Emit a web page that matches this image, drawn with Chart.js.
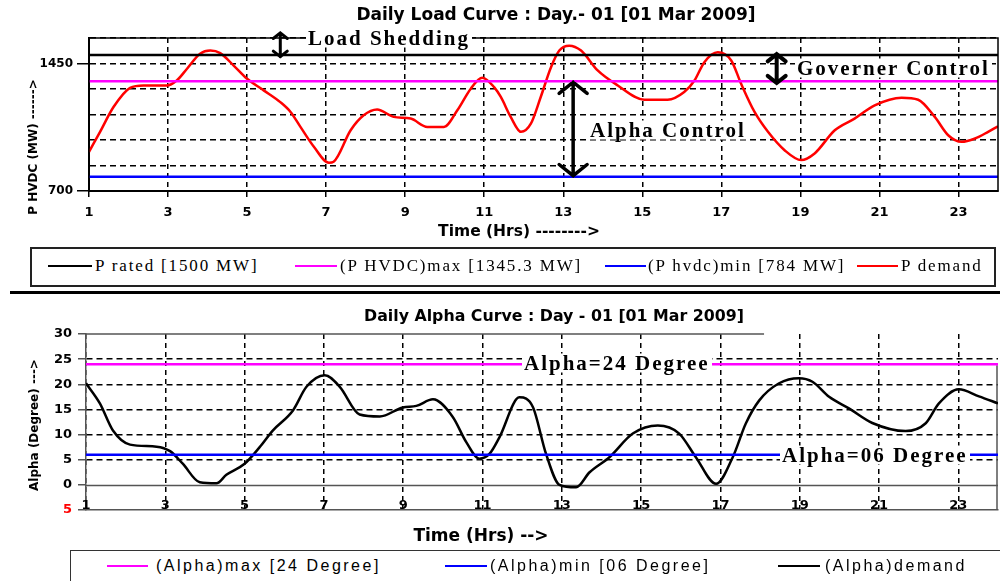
<!DOCTYPE html>
<html>
<head>
<meta charset="utf-8">
<script src="https://cdn.jsdelivr.net/npm/chart.js@4.4.1/dist/chart.umd.min.js"></script>
<style>
body{margin:0;width:1000px;height:581px;overflow:hidden;background:#fff;position:relative;font-family:"Liberation Sans",Arial,sans-serif;}
canvas{position:absolute;left:0;}
#c1{top:0;}
#c2{top:290px;}
.txt{position:absolute;white-space:nowrap;transform:translate(-50%,-50%);font-family:"DejaVu Sans",Verdana,sans-serif;}
.title{font-weight:bold;font-size:17px;}
.ax{font-weight:bold;font-size:15.5px;}
.yt{font-weight:bold;font-size:12px;transform:translate(-50%,-50%) rotate(-90deg);}
.note{position:absolute;white-space:nowrap;transform:translateY(-50%);font-family:"Liberation Serif","Times New Roman",serif;font-weight:bold;font-size:21px;letter-spacing:2px;background:#fff;line-height:19px;padding:0 2px;}
.box{position:absolute;box-sizing:border-box;}
.lg{position:absolute;height:2px;}
.lt{position:absolute;white-space:nowrap;transform:translateY(-50%);}
.serif{font-family:"Liberation Serif","Times New Roman",serif;font-size:17px;letter-spacing:1.85px;}
.sans{font-family:"Liberation Sans",Arial,sans-serif;font-size:16px;letter-spacing:2.5px;}
#sep{position:absolute;left:10px;top:291px;width:990px;height:3px;background:#000;}
</style>
</head>
<body>
<canvas id="c1" width="1000" height="245"></canvas>
<canvas id="c2" width="1000" height="260"></canvas>

<div class="txt title" style="left:556px;top:14px;">Daily Load Curve : Day.- 01 [01 Mar 2009]</div>
<div class="txt yt" style="left:33px;top:147px;">P HVDC (MW) ------&gt;</div>
<div class="txt ax" style="left:519px;top:231px;">Time (Hrs) --------&gt;</div>

<div class="note" style="left:306px;top:38px;">Load Shedding</div>
<div class="note" style="left:795px;top:68px;">Governer Control</div>
<div class="note" style="left:588px;top:130px;">Alpha Control</div>

<div class="box" style="left:30px;top:247px;width:966px;height:40px;border:2px solid #222;"></div>
<div class="lg" style="left:48px;top:265px;width:44px;background:#000;"></div>
<div class="lt serif" style="left:95px;top:266px;">P rated [1500 MW]</div>
<div class="lg" style="left:295px;top:265px;width:42px;background:#ff00ff;"></div>
<div class="lt serif" style="left:340px;top:266px;">(P HVDC)max [1345.3 MW]</div>
<div class="lg" style="left:605px;top:265px;width:41px;background:#0000ff;"></div>
<div class="lt serif" style="left:648px;top:266px;">(P hvdc)min [784 MW]</div>
<div class="lg" style="left:857px;top:265px;width:41px;background:#ff0000;"></div>
<div class="lt serif" style="left:901px;top:266px;">P demand</div>

<div id="sep"></div>

<div class="txt title" style="left:554px;top:315px;font-size:15.8px;">Daily Alpha Curve : Day - 01 [01 Mar 2009]</div>
<div class="txt yt" style="left:34px;top:425px;">Alpha (Degree) ---&gt;</div>
<div class="txt ax" style="left:481px;top:535px;font-size:17px;">Time (Hrs) --&gt;</div>

<div class="note" style="left:522px;top:363px;">Alpha=24 Degree</div>
<div class="note" style="left:780px;top:455px;">Alpha=06 Degree</div>

<div class="box" style="left:70px;top:550px;width:940px;height:40px;border:1.5px solid #333;"></div>
<div class="lg" style="left:107px;top:565px;width:41px;background:#ff00ff;"></div>
<div class="lt sans" style="left:156px;top:566px;">(Alpha)max [24 Degree]</div>
<div class="lg" style="left:445px;top:565px;width:42px;background:#0000ff;"></div>
<div class="lt sans" style="left:490px;top:566px;">(Alpha)min [06 Degree]</div>
<div class="lg" style="left:778px;top:565px;width:42px;background:#000;"></div>
<div class="lt sans" style="left:825px;top:566px;">(Alpha)demand</div>

<script>
// Load curve data
const hourRange = [1, 24];
const xTicks = [1, 3, 5, 7, 9, 11, 13, 15, 17, 19, 21, 23];
const loadTicks = [700, 850, 1000, 1150, 1300, 1450, 1600];
const loadLabels = [700, 1450];
const pRated = 1500;
const pMax = 1345.3;
const pMin = 784;
const demandHours = [1, 1.28, 1.62, 2.04, 2.38, 2.97, 3.22, 3.48, 3.81, 4.07, 4.32, 4.66, 5.0, 5.42, 5.84, 6.1, 6.35, 6.69, 7.07, 7.19, 7.62, 7.95, 8.29, 8.71, 9.14, 9.56, 9.98, 10.32, 10.66, 10.95, 11.25,
  11.42, 11.67, 11.93, 12.18, 12.43, 12.69, 12.9, 13.15, 13.45, 13.87, 14.38, 15.05, 15.64, 16.06, 16.32, 16.57, 16.91, 17.25, 17.5, 17.84, 18.18, 18.6, 19.02, 19.36, 19.87, 20.37, 20.88, 21.56, 21.98, 22.4, 22.74, 23.08, 23.42, 23.75, 24];
const pDemand = [930, 1048, 1194, 1307, 1321, 1321, 1350, 1419, 1507, 1526, 1511, 1438, 1360, 1292, 1223, 1165, 1077, 960, 866, 872, 1057, 1145, 1179, 1136, 1126, 1077, 1077, 1175, 1302, 1366, 1311,
  1253, 1136, 1048, 1096, 1253, 1428, 1526, 1555, 1526, 1409, 1321, 1237, 1237, 1282, 1350, 1458, 1516, 1468, 1331, 1165, 1048, 940, 882, 921, 1057, 1126, 1204, 1249, 1237, 1136, 1028, 989, 1009, 1048, 1081];

// Alpha curve data
const alphaTicks = [-5, 0, 5, 10, 15, 20, 25, 30];
const alphaMax = 24;
const alphaMin = 6;
const alphaHours = [1, 1.35, 1.68, 2.11, 2.78, 3.12, 3.44, 3.87, 4.29, 4.54, 5.0, 5.38, 5.71, 6.22, 6.56, 7.02, 7.4, 7.9, 8.41, 8.99, 9.33, 9.75, 10.25, 10.59, 10.92, 11.18, 11.43,
  11.93, 12.27, 12.6, 12.94, 13.36, 13.7, 14.2, 14.79, 15.42, 15.96, 16.38, 16.89, 17.31, 17.64, 17.98, 18.48, 18.98, 19.32, 19.74, 20.24, 20.83, 21.67, 22.17, 22.51, 23.01, 23.52, 24];
const alphaDemand = [20.2, 16.2, 10.8, 8.0, 7.6, 6.7, 4.2, 0.5, 0.3, 2.0, 4.2, 7.5, 10.8, 14.8, 19.5, 21.8, 19.5, 14.0, 13.6, 15.4, 15.7, 17.0, 13.5, 8.5, 5.2, 6.2, 9.5,
  17.4, 15.5, 6.2, 0, -0.5, 2.5, 5.5, 10.2, 11.8, 10.2, 5.5, 0.2, 5.5, 12.2, 16.8, 20.2, 21.2, 20.5, 17.5, 15.2, 12.3, 10.7, 12.2, 16.2, 19.0, 17.6, 16.2];

// annotation arrows: [hour, from, to, head half width, line width]
const loadArrows = [[5.84, 1630, 1490, 7, 3], [18.4, 1505, 1335, 9, 4], [13.25, 1340, 790, 14, 3.5]];

const pts = (xs, ys) => xs.map((x, i) => ({x: x, y: ys[i]}));
const flat = v => [{x: hourRange[0], y: v}, {x: hourRange[1], y: v}];
const tickFont = {family: 'DejaVu Sans', weight: 'bold', size: 12};

function arrow(ctx, x, y1, y2, hw, lw){
  ctx.save();
  ctx.strokeStyle = '#000';
  ctx.lineWidth = lw;
  ctx.lineCap = 'round';
  ctx.beginPath();
  ctx.moveTo(x, y1); ctx.lineTo(x, y2);
  ctx.moveTo(x - hw, y1 + hw * 0.8); ctx.lineTo(x, y1); ctx.lineTo(x + hw, y1 + hw * 0.8);
  ctx.moveTo(x - hw, y2 - hw * 0.8); ctx.lineTo(x, y2); ctx.lineTo(x + hw, y2 - hw * 0.8);
  ctx.stroke();
  ctx.restore();
}

const loadDecor = {
  id: 'loadDecor',
  afterDatasetsDraw(chart){
    const {ctx, chartArea: a, scales: {x, y}} = chart;
    ctx.save();
    ctx.strokeStyle = '#000';
    ctx.lineWidth = 1.5;
    ctx.strokeRect(a.left, a.top, a.right - a.left, a.bottom - a.top);
    ctx.restore();
    loadArrows.forEach(r => arrow(ctx, x.getPixelForValue(r[0]), y.getPixelForValue(r[1]), y.getPixelForValue(r[2]), r[3], r[4]));
  }
};

const alphaDecor = {
  id: 'alphaDecor',
  beforeDatasetsDraw(chart){
    const {ctx, chartArea: a, scales: {x, y}} = chart;
    ctx.save();
    ctx.strokeStyle = '#555';
    ctx.lineWidth = 1.5;
    ctx.beginPath();
    const y0 = Math.round(y.getPixelForValue(0)) + 0.5;
    ctx.moveTo(a.left, y0); ctx.lineTo(a.right, y0);
    ctx.moveTo(a.left, a.top); ctx.lineTo(x.getPixelForValue(18.1), a.top);
    ctx.moveTo(a.right - 1, y.getPixelForValue(23.8)); ctx.lineTo(a.right - 1, a.bottom);
    ctx.stroke();
    ctx.restore();
  },
  afterDraw(chart){
    // hour labels sit on top of the axis line in this chart
    const {ctx, chartArea: a, scales: {x}} = chart;
    ctx.save();
    ctx.fillStyle = '#000';
    ctx.font = 'bold 13px "DejaVu Sans"';
    ctx.textAlign = 'center';
    ctx.textBaseline = 'middle';
    xTicks.forEach(v => ctx.fillText(String(v), x.getPixelForValue(v), a.bottom - 4));
    ctx.restore();
  }
};

new Chart(document.getElementById('c1'), {
  type: 'line',
  data: {
    datasets: [
      {data: flat(pRated), borderColor: '#000', borderWidth: 2.5},
      {data: flat(pMax), borderColor: '#ff00ff', borderWidth: 2.5},
      {data: flat(pMin), borderColor: '#0000ff', borderWidth: 2.5},
      {data: pts(demandHours, pDemand), borderColor: '#ff0000', borderWidth: 2.5, cubicInterpolationMode: 'monotone'}
    ]
  },
  options: {
    responsive: false, animation: false,
    layout: {padding: {top: 38, right: 2}},
    elements: {point: {radius: 0}},
    plugins: {legend: {display: false}, tooltip: {enabled: false}},
    scales: {
      x: {
        type: 'linear', min: hourRange[0], max: hourRange[1],
        afterBuildTicks: s => { s.ticks = xTicks.map(v => ({value: v})); },
        afterFit: s => { s.height = 54; },
        grid: {color: '#000', lineWidth: 1.5, tickLength: 6},
        border: {color: '#000', width: 2, dash: [5, 4]},
        ticks: {color: '#000', font: {family: 'DejaVu Sans', weight: 'bold', size: 13}, padding: 8, maxRotation: 0}
      },
      y: {
        min: loadTicks[0], max: loadTicks[loadTicks.length - 1],
        afterBuildTicks: s => { s.ticks = loadTicks.map(v => ({value: v})); },
        afterFit: s => { s.width = 89; },
        grid: {color: '#000', lineWidth: 1.5, tickLength: 12,
          tickColor: c => loadLabels.includes(c.tick && c.tick.value) ? '#000' : 'rgba(0,0,0,0)'},
        border: {color: '#000', width: 2, dash: [6, 4]},
        ticks: {color: '#000', font: tickFont, padding: 4,
          callback: v => loadLabels.includes(v) ? String(v) : ''}
      }
    }
  },
  plugins: [loadDecor]
});

new Chart(document.getElementById('c2'), {
  type: 'line',
  data: {
    datasets: [
      {data: flat(alphaMax), borderColor: '#ff00ff', borderWidth: 2.5},
      {data: flat(alphaMin), borderColor: '#0000ff', borderWidth: 2.5},
      {data: pts(alphaHours, alphaDemand), borderColor: '#000', borderWidth: 2.5, cubicInterpolationMode: 'monotone'}
    ]
  },
  options: {
    responsive: false, animation: false,
    layout: {padding: {top: 44, right: 2}},
    elements: {point: {radius: 0}},
    plugins: {legend: {display: false}, tooltip: {enabled: false}},
    scales: {
      x: {
        type: 'linear', min: hourRange[0], max: hourRange[1],
        afterBuildTicks: s => { s.ticks = xTicks.map(v => ({value: v})); },
        afterFit: s => { s.height = 40; },
        grid: {color: '#000', lineWidth: 1.5, drawTicks: false},
        border: {color: '#555', width: 1.5, dash: [5, 4]},
        ticks: {display: false}
      },
      y: {
        min: alphaTicks[0], max: alphaTicks[alphaTicks.length - 1],
        afterBuildTicks: s => { s.ticks = alphaTicks.map(v => ({value: v})); },
        afterFit: s => { s.width = 86; },
        grid: {color: c => (c.tick && (c.tick.value === 30 || c.tick.value <= 0)) ? 'rgba(0,0,0,0)' : '#000', lineWidth: 1.5, tickLength: 8, tickColor: '#555'},
        border: {color: '#555', width: 1.5, dash: [6, 4]},
        ticks: {font: {family: 'DejaVu Sans', weight: 'bold', size: 13}, padding: 6,
          color: c => c.tick && c.tick.value < 0 ? '#ff0000' : '#000',
          callback: v => String(Math.abs(v))}
      }
    }
  },
  plugins: [alphaDecor]
});
</script>
</body>
</html>
